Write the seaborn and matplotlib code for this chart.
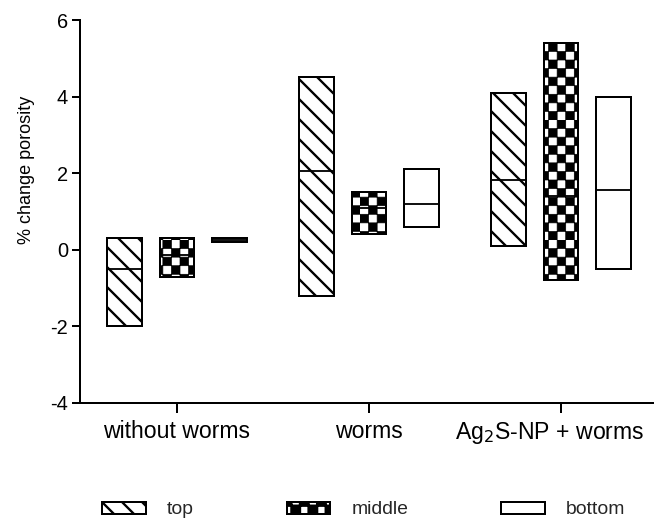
import numpy as np
import matplotlib
matplotlib.use("Agg")
import matplotlib.pyplot as plt
import matplotlib.hatch as mhatch
import matplotlib.transforms as mtransforms
from matplotlib.path import Path
from matplotlib.patches import Rectangle
import seaborn as sns
import warnings

warnings.filterwarnings("ignore")

# ---------------- data ----------------
categories = ["without worms", "worms", "Ag$_2$S-NP + worms"]
series = ["top", "middle", "bottom"]
mins_top = [-2.0, -1.2, 0.1]
maxs_top = [0.3, 4.5, 4.1]
means_top = [-0.5, 2.05, 1.82]
mins_middle = [-0.7, 0.4, -0.8]
maxs_middle = [0.32, 1.5, 5.4]
means_middle = [-0.13, 1.09, 1.4]
mins_bottom = [0.2, 0.6, -0.5]
maxs_bottom = [0.32, 2.1, 4.0]
means_bottom = [0.26, 1.2, 1.57]
yticks = [-4, -2, 0, 2, 4, 6]
ylabel = "% change porosity"


# ---------------- custom checkerboard hatch ----------------
class CheckerHatch(mhatch.HatchPatternBase):
    def __init__(self, hatch, density):
        self.n = 14 if "c" in hatch else 0
        self.num_vertices = (self.n * self.n // 2) * 5
        self.filled = True

    def set_vertices_and_codes(self, vertices, codes):
        n = self.n
        s = 1.0 / n
        i = 0
        for r in range(n):
            for c in range(n):
                if (r + c) % 2 == 0:
                    x0, y0 = c * s, r * s
                    vertices[i:i + 5] = [[x0, y0], [x0 + s, y0], [x0 + s, y0 + s],
                                         [x0, y0 + s], [x0, y0]]
                    codes[i] = Path.MOVETO
                    codes[i + 1:i + 4] = Path.LINETO
                    codes[i + 4] = Path.CLOSEPOLY
                    i += 5


mhatch._hatch_types.append(CheckerHatch)

sns.set_theme(style="ticks")
plt.rcParams["font.family"] = ["Liberation Sans", "DejaVu Sans"]
plt.rcParams["hatch.linewidth"] = 1.4
plt.rcParams["hatch.color"] = "black"

fig = plt.figure(figsize=(654 / 120, 521 / 120), dpi=120)
ax = fig.add_axes([80 / 654, 1 - 403 / 521, (653 - 80) / 654, (403 - 20) / 521])

# layout
bar_step = 0.2734
bar_width = 0.182

data = {
    "top": (mins_top, maxs_top, means_top, "\\\\"),
    "middle": (mins_middle, maxs_middle, means_middle, "c"),
    "bottom": (mins_bottom, maxs_bottom, means_bottom, ""),
}

handles = []
for k, s in enumerate(series):
    mn, mx, me, hatch = data[s]
    mn = np.array(mn)
    mx = np.array(mx)
    pos = np.arange(len(categories)) + (k - 1) * bar_step
    bars = ax.bar(pos, mx - mn, bottom=mn, width=bar_width, facecolor="white",
                  edgecolor="black", linewidth=1.2, hatch=hatch, label=s, zorder=2)
    if s == "middle":
        for b in bars:
            if hasattr(b, "set_hatch_linewidth"):
                b.set_hatch_linewidth(0.4)
    ax.hlines(me, pos - bar_width / 2, pos + bar_width / 2, colors="black",
              linewidth=1.1, zorder=3)
    h = Rectangle((0, 0), 1, 1, facecolor="white", edgecolor="black",
                  linewidth=1.2, hatch=hatch)
    if s == "middle" and hasattr(h, "set_hatch_linewidth"):
        h.set_hatch_linewidth(0.4)
    handles.append(h)

ax.set_xlim((80 - 177) / 192, (653 - 177) / 192)
ax.set_ylim(-4, 6)
ax.set_xticks(range(len(categories)))
ax.set_xticklabels(categories, fontsize=13.8)
ax.set_yticks(yticks)
ax.set_yticklabels([str(t) for t in yticks], fontsize=12)
ax.set_ylabel(ylabel, fontsize=10.8)
ax.yaxis.set_label_coords(-0.078, (403 - 170) / 383)
sns.despine(ax=ax)
for sp in ["left", "bottom"]:
    ax.spines[sp].set_linewidth(1.2)
    ax.spines[sp].set_color("black")
ax.tick_params(axis="y", length=4.8, width=1.2, pad=2.4, colors="black")
ax.tick_params(axis="x", length=6.0, width=1.2, pad=4.5, colors="black")
ax.yaxis.label.set_color("black")

# keep the last category label inside the figure, as in the reference
last = ax.get_xticklabels()[-1]
last.set_transform(last.get_transform() +
                   mtransforms.ScaledTranslation(-11 / 120, 0, fig.dpi_scale_trans))

fig.legend(handles, series, loc="center left", bbox_to_anchor=(102 / 654, 11 / 521),
           ncol=3, frameon=False, fontsize=11.6, handlelength=2.25, handleheight=0.56,
           handletextpad=1.1, columnspacing=4.8, borderpad=0, borderaxespad=0)

fig.savefig("out.png", dpi=120)
